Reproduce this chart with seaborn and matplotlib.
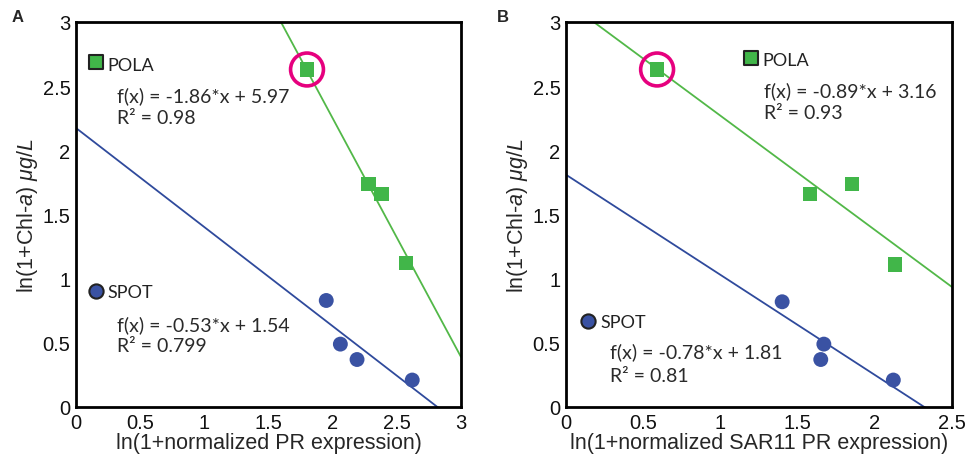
import numpy as np
import pandas as pd
import matplotlib
matplotlib.use("Agg")
import matplotlib.pyplot as plt
import seaborn as sns

# ---- data ----
a_pola_x = [1.80, 2.28, 2.38, 2.57]
a_pola_y = [2.63, 1.74, 1.66, 1.12]
a_spot_x = [1.95, 2.06, 2.19, 2.62]
a_spot_y = [0.83, 0.49, 0.37, 0.21]
b_pola_x = [0.59, 1.58, 1.85, 2.13]
b_pola_y = [2.63, 1.66, 1.74, 1.11]
b_spot_x = [1.40, 1.67, 1.65, 2.12]
b_spot_y = [0.82, 0.49, 0.37, 0.21]

# drawn fit lines (slope, intercept)
a_pola_fit = (-1.86, 5.97)
a_spot_fit = (-0.772, 2.174)
b_pola_fit = (-0.89, 3.16)
b_spot_fit = (-0.78, 1.81)

a_pola_text = ["f(x) = -1.86*x + 5.97", "R² = 0.98"]
a_spot_text = ["f(x) = -0.53*x + 1.54", "R² = 0.799"]
b_pola_text = ["f(x) = -0.89*x + 3.16", "R² = 0.93"]
b_spot_text = ["f(x) = -0.78*x + 1.81", "R² = 0.81"]

a_xticks = [0, 0.5, 1, 1.5, 2, 2.5, 3]
b_xticks = [0, 0.5, 1, 1.5, 2, 2.5]
yticks = [0, 0.5, 1, 1.5, 2, 2.5, 3]

GREEN = "#41b649"
GREEN_LINE = "#52b848"
BLUE = "#3a52a3"
BLUE_LINE = "#2f4a9c"
MAGENTA = "#e6007e"

sns.set_style("white")
plt.rcParams["font.family"] = ["Liberation Sans", "DejaVu Sans"]
plt.rcParams["mathtext.fontset"] = "custom"
plt.rcParams["mathtext.rm"] = "Liberation Sans"
plt.rcParams["mathtext.it"] = "Liberation Sans:italic"

fig = plt.figure(figsize=(9.76, 4.6), dpi=100)
axA = fig.add_axes([76/976, 52/460, 385/976, 385/460])
axB = fig.add_axes([566/976, 52/460, 386/976, 385/460])

ANN_FONT = ["Lato", "DejaVu Sans"]


def panel(ax, pola_x, pola_y, spot_x, spot_y, pola_fit, spot_fit, xmax, xticks,
          xlabel, pola_leg, spot_leg, pola_txt, spot_txt, pola_tpos, spot_tpos):
    pola = pd.DataFrame({"x": pola_x, "y": pola_y})
    spot = pd.DataFrame({"x": spot_x, "y": spot_y})
    xs = np.array([0.0, xmax])
    lp = pd.DataFrame({"x": xs, "y": pola_fit[0] * xs + pola_fit[1]})
    ls = pd.DataFrame({"x": xs, "y": spot_fit[0] * xs + spot_fit[1]})
    sns.lineplot(data=lp, x="x", y="y", ax=ax, color=GREEN_LINE, lw=1.3)
    sns.lineplot(data=ls, x="x", y="y", ax=ax, color=BLUE_LINE, lw=1.3)
    sns.scatterplot(data=pola, x="x", y="y", ax=ax, marker="s", s=105,
                    color=GREEN, edgecolor="none", zorder=3)
    sns.scatterplot(data=spot, x="x", y="y", ax=ax, marker="o", s=115,
                    color=BLUE, edgecolor="none", zorder=3)
    # highlight circle around first POLA point
    ax.scatter([pola_x[0]], [pola_y[0]], s=560, facecolor="none",
               edgecolor=MAGENTA, linewidth=2.6, zorder=4)
    # legend-like markers: (marker x, marker y, text x, text baseline y)
    mx, my, tx, ty = pola_leg
    ax.scatter([mx], [my], marker="s", s=95, color=GREEN,
               edgecolor="#222222", linewidth=1.5, zorder=3, clip_on=False)
    ax.text(tx, ty, "POLA", fontsize=13, family=ANN_FONT, va="baseline",
            ha="left", color="#222222")
    mx, my, tx, ty = spot_leg
    ax.scatter([mx], [my], marker="o", s=105, color=BLUE,
               edgecolor="#222222", linewidth=1.5, zorder=3, clip_on=False)
    ax.text(tx, ty, "SPOT", fontsize=13, family=ANN_FONT, va="baseline",
            ha="left", color="#222222")
    for txt, (tx, ty1, ty2) in ((pola_txt, pola_tpos), (spot_txt, spot_tpos)):
        ax.text(tx, ty1, txt[0], fontsize=14, family=ANN_FONT, va="baseline",
                ha="left", color="#2a2a2a")
        ax.text(tx, ty2, txt[1], fontsize=14, family=ANN_FONT,
                va="baseline", ha="left", color="#2a2a2a")
    ax.set_xlim(0, xmax)
    ax.set_ylim(0, 3)
    ax.set_xticks(xticks)
    ax.set_xticklabels([f"{t:g}" for t in xticks])
    ax.set_yticks(yticks)
    ax.set_yticklabels([f"{t:g}" for t in yticks])
    ax.tick_params(length=0, labelsize=14.5, pad=4, colors="#111111")
    ax.set_xlabel(xlabel, fontsize=15.5, labelpad=0)
    ax.set_ylabel(r"ln(1+Chl-$\mathit{a}$) $\mathit{μg/L}$", fontsize=15.5, labelpad=2)
    for sp in ax.spines.values():
        sp.set_visible(True)
        sp.set_color("black")
        sp.set_linewidth(2)


panel(axA, a_pola_x, a_pola_y, a_spot_x, a_spot_y, a_pola_fit, a_spot_fit, 3,
      a_xticks, "ln(1+normalized PR expression)",
      (0.156, 2.686, 0.245, 2.626), (0.156, 0.906, 0.245, 0.855),
      a_pola_text, a_spot_text,
      (0.322, 2.387, 2.215), (0.322, 0.60, 0.435))
panel(axB, b_pola_x, b_pola_y, b_spot_x, b_spot_y, b_pola_fit, b_spot_fit, 2.5,
      b_xticks, "ln(1+normalized SAR11 PR expression)",
      (1.196, 2.717, 1.275, 2.667), (0.145, 0.672, 0.225, 0.626),
      b_pola_text, b_spot_text,
      (1.282, 2.421, 2.25), (0.285, 0.387, 0.205))

fig.text(12/976, 1 - 18/460, "A", fontsize=12, fontweight="bold", va="center")
fig.text(497/976, 1 - 18/460, "B", fontsize=12, fontweight="bold", va="center")

fig.savefig("out.png", dpi=100)
